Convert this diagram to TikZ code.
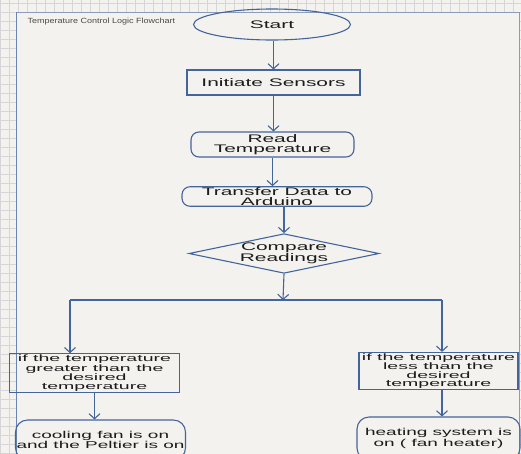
\documentclass[tikz,border=0pt]{standalone}
\usepackage{fontspec}
\setmainfont{Liberation Sans}[FakeStretch=1.9]
\newfontfamily\titlefont{Liberation Sans}[FakeStretch=1.2]
\newfontfamily\widefont{Liberation Sans}[FakeStretch=2.1]
\usetikzlibrary{
    arrows.meta,
    shapes.geometric, % ellipse and diamond
    positioning
}
\definecolor{flowblue}{HTML}{44659A}
\definecolor{paper}{HTML}{F3F2EE}
\definecolor{gridgray}{HTML}{D6D6D8}
\definecolor{framegray}{HTML}{8C9CB8}
\definecolor{inkgray}{HTML}{1C1C1C}

\begin{document}
\begin{tikzpicture}[
    x=1pt, y=-1pt,
    boxnode/.style = {rectangle, draw=flowblue, line width=1.1pt,
                      text=inkgray, inner sep=1pt, align=center,
                      font=\fontsize{11}{9.5}\selectfont},
    roundnode/.style = {boxnode, rounded corners=8pt},
    startnode/.style = {boxnode, ellipse, minimum width=157pt, minimum height=31pt},
    decisionnode/.style = {boxnode, diamond, aspect=4.8, inner sep=0pt,
                           minimum width=178pt, minimum height=37pt},
    conditionnode/.style = {boxnode, font=\widefont\fontsize{9.3}{8.4}\selectfont},
    actionnode/.style = {roundnode, rounded corners=12pt,
                         font=\fontsize{10}{8.8}\selectfont},
    flowarrow/.style = {draw=flowblue, line width=1.1pt,
                        -{Straight Barb[length=5pt, width=11pt]}},
    flowline/.style = {draw=flowblue, line width=1.1pt}
]
    \useasboundingbox (0,0) rectangle (521,453);

    % grid paper and sheet
    \fill[paper] (0,0) rectangle (521,453);
    \foreach \gx in {0,9,...,521} \draw[gridgray, line width=0.5pt] (\gx,0) -- (\gx,453);
    \foreach \gy in {3,12,...,453} \draw[gridgray, line width=0.5pt] (0,\gy) -- (521,\gy);
    \draw[framegray, line width=0.8pt, fill=paper] (16,12) rectangle (519,470);
    \draw[flowblue!80, line width=0.8pt] (16,12) -- (16,470);

    \node[anchor=west, text=inkgray!80, font=\titlefont\fontsize{7.5}{8}\selectfont]
        (title) at (24,22) {Temperature Control Logic Flowchart};

    \node[startnode] (ST) at (272,24.5) {Start};
    \node[boxnode, minimum width=173pt, minimum height=25pt] (IS) at (273.5,82.5) {Initiate Sensors};
    \node[roundnode, minimum width=163pt, minimum height=25pt] (RT) at (272.5,144.5) {Read\\Temperature};
    \node[roundnode, minimum width=190pt, minimum height=19pt] (TD) at (277,196.5) {Transfer Data to\\Arduino};
    \node[decisionnode] (CR) at (284,253.5) {Compare\\Readings};

    \coordinate (split) at (283,300);
    \coordinate (splitL) at (70,300);
    \coordinate (splitR) at (442,300);

    \node[conditionnode, minimum width=170pt, minimum height=37pt] (GT) at (94.5,373)
        {if the temperature\\greater than the\\desired\\temperature};
    \node[conditionnode, minimum width=159pt, minimum height=34pt] (LT) at (438.5,371)
        {if the temperature\\less than the\\desired\\temperature};
    \node[actionnode, minimum width=169pt, minimum height=40pt] (CF) at (100.5,440)
        {cooling fan is on\\and the Peltier is on};
    \node[actionnode, minimum width=163pt, minimum height=43pt] (HS) at (438.5,438.5)
        {heating system is\\on ( fan heater)};

    \draw[flowarrow] (ST.south -| IS.north) -- (IS.north);
    \draw[flowarrow] (IS.south) -- (IS.south |- RT.north);
    \draw[flowarrow] (RT.south) -- (RT.south |- TD.north);
    \draw[flowarrow] (TD.south -| CR.north) -- (CR.north);
    \draw[flowarrow] (CR.south) -- (split);
    \draw[flowline] (splitL) -- (splitR);
    \draw[flowarrow] (splitL) -- (splitL |- GT.north);
    \draw[flowarrow] (splitR) -- (splitR |- LT.north);
    \draw[flowarrow] (GT.south) -- (GT.south |- CF.north);
    \draw[flowarrow] (LT.south -| splitR) -- (splitR |- HS.north);

\end{tikzpicture}
\end{document}
